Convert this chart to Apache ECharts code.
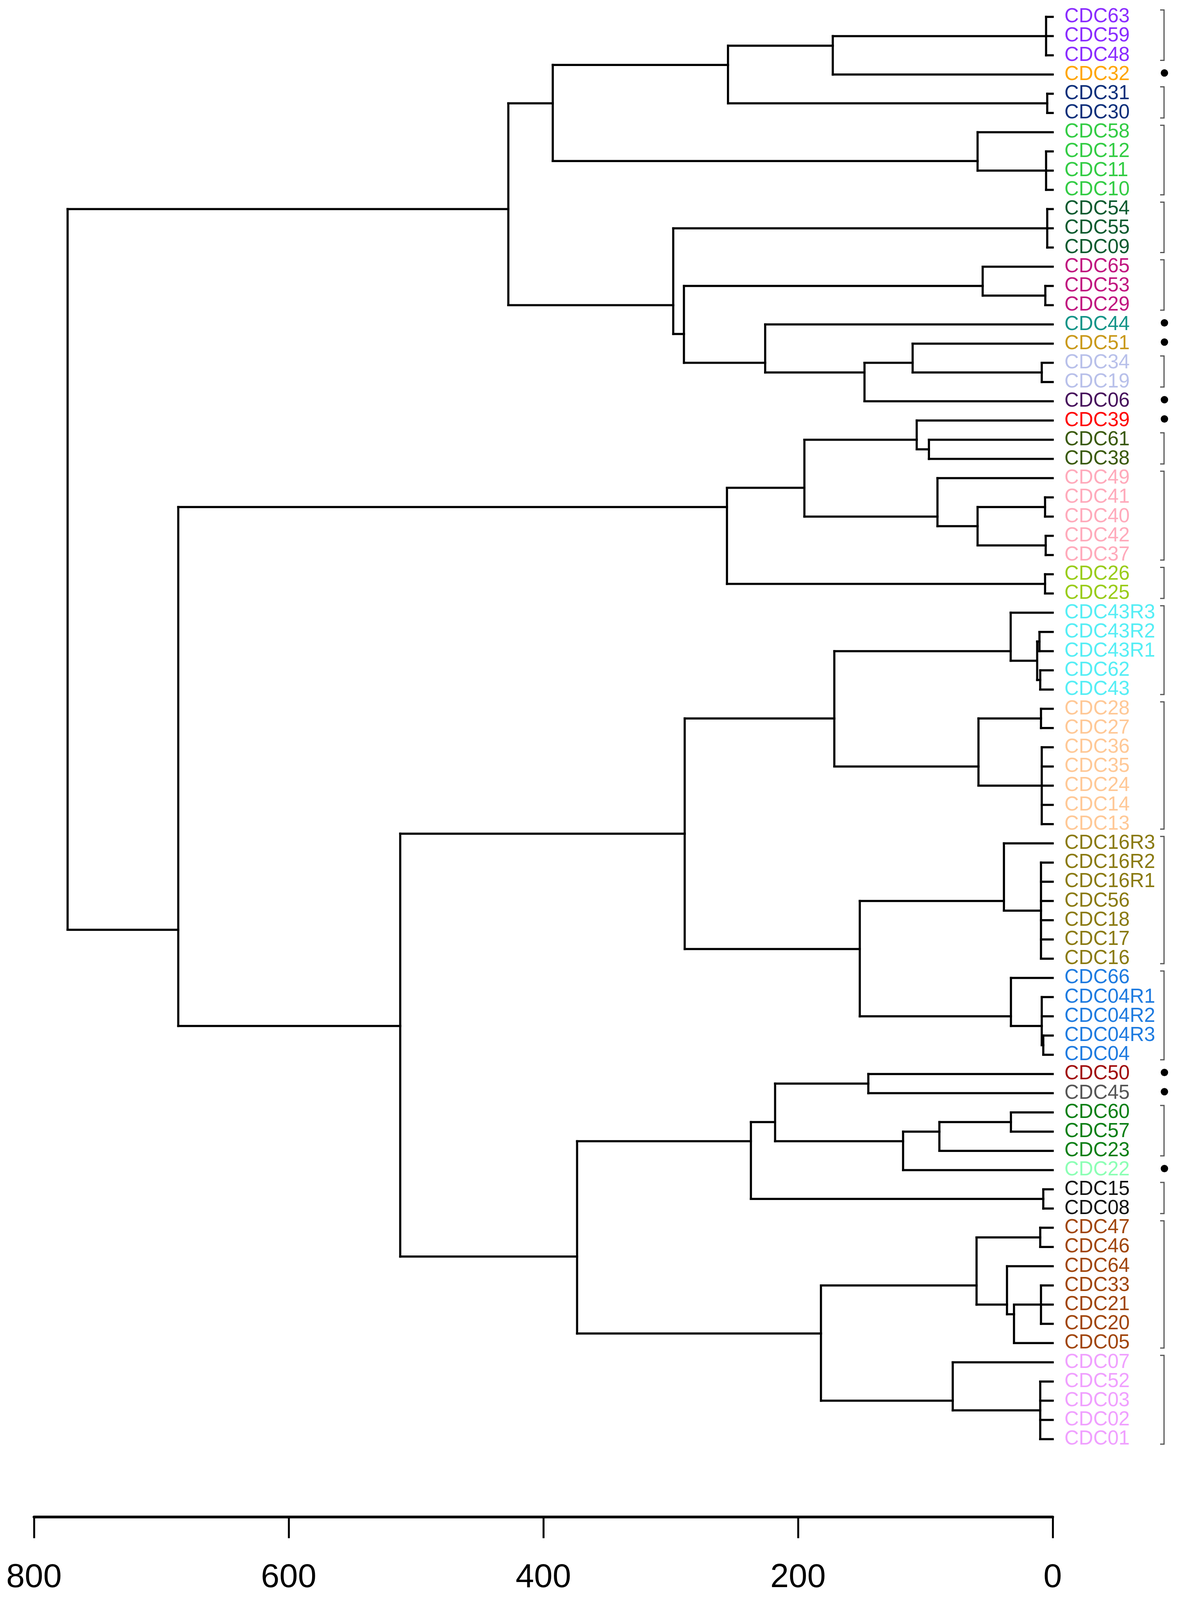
<!DOCTYPE html>
<html><head><meta charset="utf-8">
<script src="https://cdn.jsdelivr.net/npm/echarts@6/dist/echarts.min.js"></script>
<style>html,body{margin:0;padding:0;background:#fff;overflow:hidden}#c{width:3026px;height:4190px}</style>
</head><body><div id="c"></div>
<script>
// ---------- data ----------
const leaves = ['CDC63','CDC59','CDC48','CDC32','CDC31','CDC30','CDC58','CDC12','CDC11','CDC10',
 'CDC54','CDC55','CDC09','CDC65','CDC53','CDC29','CDC44','CDC51','CDC34','CDC19','CDC06',
 'CDC39','CDC61','CDC38','CDC49','CDC41','CDC40','CDC42','CDC37','CDC26','CDC25',
 'CDC43R3','CDC43R2','CDC43R1','CDC62','CDC43','CDC28','CDC27','CDC36','CDC35','CDC24','CDC14','CDC13',
 'CDC16R3','CDC16R2','CDC16R1','CDC56','CDC18','CDC17','CDC16','CDC66','CDC04R1','CDC04R2','CDC04R3','CDC04',
 'CDC50','CDC45','CDC60','CDC57','CDC23','CDC22','CDC15','CDC08',
 'CDC47','CDC46','CDC64','CDC33','CDC21','CDC20','CDC05','CDC07','CDC52','CDC03','CDC02','CDC01'];

const leafColors = [
 '#8A2BFF','#8A2BFF','#8A2BFF','#FFA500','#0B2F7A','#0B2F7A','#33CC44','#33CC44','#33CC44','#33CC44',
 '#0B5A2F','#0B5A2F','#0B5A2F','#C0157F','#C0157F','#C0157F','#139488','#C9991A','#B8C0EA','#B8C0EA','#46105C',
 '#FF0000','#3A5A0B','#3A5A0B','#FFAABB','#FFAABB','#FFAABB','#FFAABB','#FFAABB','#99CC1A','#99CC1A',
 '#55EEF5','#55EEF5','#55EEF5','#55EEF5','#55EEF5','#FFC896','#FFC896','#FFC896','#FFC896','#FFC896','#FFC896','#FFC896',
 '#8A7A10','#8A7A10','#8A7A10','#8A7A10','#8A7A10','#8A7A10','#8A7A10','#1E7BE0','#1E7BE0','#1E7BE0','#1E7BE0','#1E7BE0',
 '#A00A0A','#555555','#0A7F14','#0A7F14','#0A7F14','#8CFFB4','#111111','#111111',
 '#A0450A','#A0450A','#A0450A','#A0450A','#A0450A','#A0450A','#A0450A','#F0A0FF','#F0A0FF','#F0A0FF','#F0A0FF','#F0A0FF'];

// internal nodes: [id, children, merge height]
const nodes = [
 ['n1',['CDC63','CDC59','CDC48'],5.2],
 ['n2',['n1','CDC32'],172.7],
 ['n3',['CDC31','CDC30'],4.3],
 ['n4',['n2','n3'],255],
 ['n5',['CDC12','CDC11','CDC10'],5.2],
 ['n6',['CDC58','n5'],59],
 ['n7',['n4','n6'],392.6],
 ['n8',['CDC54','CDC55','CDC09'],4.3],
 ['n9',['CDC53','CDC29'],5.8],
 ['n10',['CDC65','n9'],55],
 ['n11',['CDC34','CDC19'],8.6],
 ['n12',['CDC51','n11'],110],
 ['n13',['n12','CDC06'],147.8],
 ['n14',['CDC44','n13'],225.8],
 ['n15',['n10','n14'],289.6],
 ['n16',['n8','n15'],298],
 ['n17',['n7','n16'],427.5],
 ['n18',['CDC61','CDC38'],97.2],
 ['n19',['CDC39','n18'],106.8],
 ['n20',['CDC41','CDC40'],6],
 ['n21',['CDC42','CDC37'],5.5],
 ['n22',['n20','n21'],59],
 ['n23',['CDC49','n22'],90.5],
 ['n24',['n19','n23'],195],
 ['n25',['CDC26','CDC25'],6],
 ['n26',['n24','n25'],255.8],
 ['n27',['CDC43R2','CDC43R1'],10.4],
 ['n28',['CDC62','CDC43'],9.8],
 ['n29',['n27','n28'],12.2],
 ['n30',['CDC43R3','n29'],33],
 ['n31',['CDC28','CDC27'],9.2],
 ['n32',['CDC36','CDC35','CDC24','CDC14','CDC13'],8.6],
 ['n33',['n31','n32'],58.3],
 ['n34',['n30','n33'],171.5],
 ['n35',['CDC16R2','CDC16R1','CDC56','CDC18','CDC17','CDC16'],9.2],
 ['n36',['CDC16R3','n35'],38.3],
 ['n37',['CDC04R3','CDC04'],7.4],
 ['n38',['CDC04R1','CDC04R2','n37'],8.6],
 ['n39',['CDC66','n38'],32.8],
 ['n40',['n36','n39'],151.5],
 ['n41',['n34','n40'],289],
 ['n42',['CDC50','CDC45'],144.8],
 ['n43',['CDC60','CDC57'],32.8],
 ['n44',['n43','CDC23'],89],
 ['n45',['n44','CDC22'],117.5],
 ['n46',['n42','n45'],218],
 ['n47',['CDC15','CDC08'],7.4],
 ['n48',['n46','n47'],237],
 ['n49',['CDC47','CDC46'],9.8],
 ['n50',['CDC33','CDC21','CDC20'],9.2],
 ['n51',['n50','CDC05'],30.4],
 ['n52',['CDC64','n51'],35.9],
 ['n53',['n49','n52'],59.8],
 ['n54',['CDC52','CDC03','CDC02','CDC01'],9.8],
 ['n55',['CDC07','n54'],78.5],
 ['n56',['n53','n55'],182],
 ['n57',['n48','n56'],373.5],
 ['n58',['n41','n57'],512.4],
 ['n59',['n26','n58'],686.7],
 ['n60',['n17','n59'],773.6]
];

const brackets = [['CDC63','CDC48'],['CDC31','CDC30'],['CDC58','CDC10'],['CDC54','CDC09'],['CDC65','CDC29'],
 ['CDC34','CDC19'],['CDC61','CDC38'],['CDC49','CDC37'],['CDC26','CDC25'],['CDC43R3','CDC43'],['CDC28','CDC13'],
 ['CDC16R3','CDC16'],['CDC66','CDC04'],['CDC60','CDC23'],['CDC15','CDC08'],['CDC47','CDC05'],['CDC07','CDC01']];
const dotLeaves = ['CDC32','CDC44','CDC51','CDC06','CDC39','CDC50','CDC45','CDC22'];

const axisMin = 0, axisMax = 800, axisStep = 200;

// ---------- build tree geometry (data units) ----------
const idx = {}; leaves.forEach((n,i)=>idx[n]=i);
const info = {};
leaves.forEach((n,i)=>{info[n]={h:0,tips:[i]};});
nodes.forEach(([id,ch,h])=>{
  const tips=[]; ch.forEach(c=>tips.push(...info[c].tips));
  info[id]={h,tips};
});
const ypos = id => { const t=info[id].tips; return t.reduce((a,b)=>a+b,0)/t.length; };
const segs = [];
nodes.forEach(([id,ch,h])=>{
  const ys = ch.map(ypos);
  segs.push([h, Math.min(...ys), h, Math.max(...ys)]);
  ch.forEach((c,k)=>segs.push([info[c].h, ys[k], h, ys[k]]));
});

// fit the drawing to the visible viewport height (reference is 4190 tall)
const H = (window.innerHeight && window.innerHeight < 4190) ? window.innerHeight : 4190;
const sy = H / 4190;
const box = document.getElementById('c');
box.style.height = H + 'px';

const FONT = '"Liberation Sans", Arial, sans-serif';
const chart = echarts.init(box, null, {renderer:'canvas'});
chart.setOption({
  backgroundColor:'#ffffff',
  animation:false,
  grid:{left:87, right:331, top:19*sy, bottom:396*sy, containLabel:false},
  xAxis:{type:'value', min:axisMin, max:axisMax, interval:axisStep, inverse:true, position:'bottom', offset:178*sy,
    axisLine:{show:true, onZero:false, lineStyle:{color:'#000', width:7}},
    axisTick:{show:true, length:56*sy, lineStyle:{color:'#000', width:5}},
    axisLabel:{show:true, color:'#000', fontSize:85, fontFamily:FONT, margin:117*sy},
    splitLine:{show:false}},
  yAxis:{type:'value', min:-0.5, max:74.5, inverse:true, show:false},
  series:[
    {type:'custom', name:'tree', clip:false, data:segs,
     renderItem:(params, api)=>{
       const p1=api.coord([api.value(0),api.value(1)]), p2=api.coord([api.value(2),api.value(3)]);
       return {type:'line', shape:{x1:p1[0],y1:p1[1],x2:p2[0],y2:p2[1]},
               style:{stroke:'#000', lineWidth:5.5, lineCap:'square'}};
     }},
    {type:'custom', name:'labels', clip:false, data:leaves.map((n,i)=>[0,i]),
     renderItem:(params, api)=>{
       const i=params.dataIndex; const p=api.coord([api.value(0),api.value(1)]);
       return {type:'text', x:p[0]+30, y:p[1],
               style:{text:leaves[i], fill:leafColors[i], font:'51px '+FONT, textVerticalAlign:'middle', textAlign:'left'}};
     }},
    {type:'custom', name:'brackets', clip:false, data:brackets.map(b=>[idx[b[0]], idx[b[1]]]),
     renderItem:(params, api)=>{
       const t=api.coord([0, api.value(0)-0.36]), b=api.coord([0, api.value(1)+0.26]);
       const x=t[0]+285;
       return {type:'polyline', shape:{points:[[x-10,t[1]],[x,t[1]],[x,b[1]],[x-10,b[1]]]},
               style:{stroke:'#555', lineWidth:3, fill:null}};
     }},
    {type:'custom', name:'singletons', clip:false, data:dotLeaves.map(n=>[0, idx[n]]),
     renderItem:(params, api)=>{
       const p=api.coord([0, api.value(1)-0.08]);
       return {type:'circle', shape:{cx:p[0]+286, cy:p[1], r:9.5}, style:{fill:'#000'}};
     }}
  ]
});
</script></body></html>
